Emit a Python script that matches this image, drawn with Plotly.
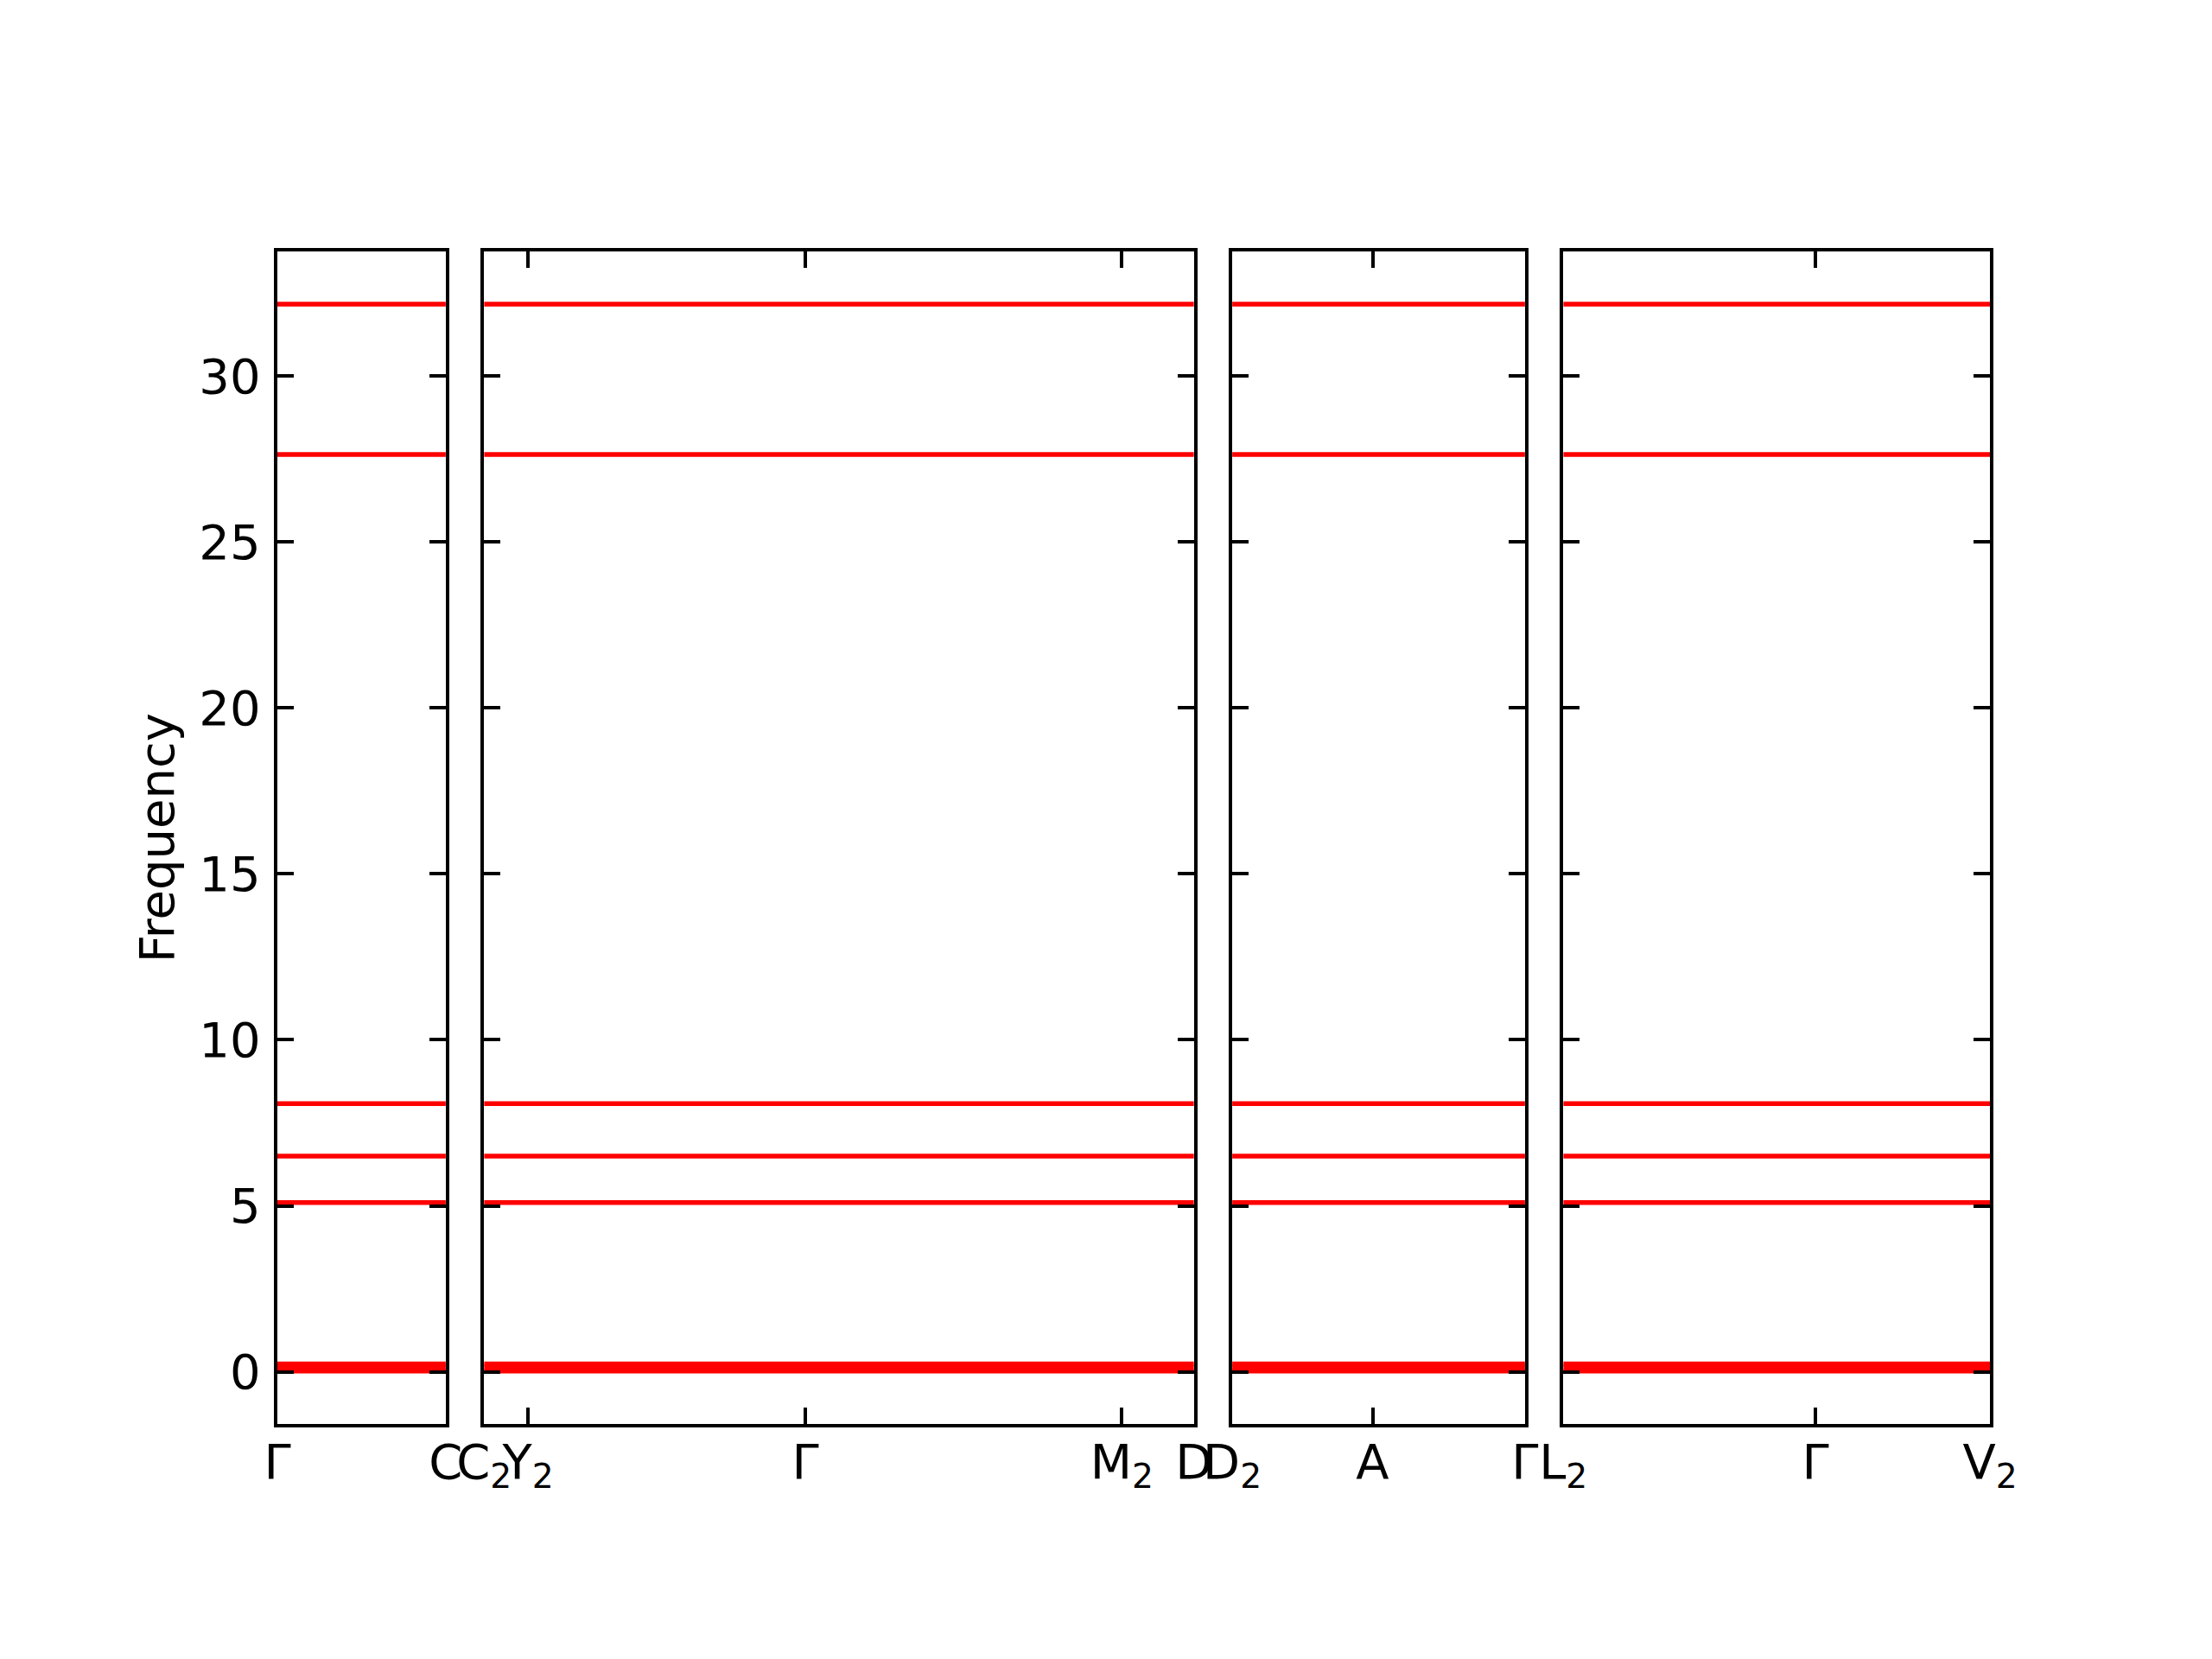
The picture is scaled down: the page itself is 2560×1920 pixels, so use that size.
import plotly.graph_objects as go

# ---- data ----
# high-symmetry labels per panel (path broken between panels)
panel_labels = [
    ["Γ", "C"],
    ["C<sub>2</sub>", "Y<sub>2</sub>", "Γ", "M<sub>2</sub>", "D"],
    ["D<sub>2</sub>", "A", "Γ"],
    ["L<sub>2</sub>", "Γ", "V<sub>2</sub>"],
]
# cumulative k-path distance of each high-symmetry point
panel_kdist = [
    [0.0, 0.195],
    [0.195, 0.246, 0.567, 0.9335, 1.017],
    [1.017, 1.1795, 1.356],
    [1.356, 1.648, 1.850],
]
# flat phonon branches (frequency), identical along the whole path
branch_freqs = [0.02, 0.13, 0.24, 5.10, 6.50, 8.08, 27.63, 32.16]

y_ticks = [0, 5, 10, 15, 20, 25, 30]
y_range = [-1.58, 33.75]

# ---- figure ----
W, H = 2560, 1920
left_px, right_px, gap_px = 321, 2303, 44.3
bottom_frac, top_frac = 1 - 1648.3 / H, 1 - 291 / H

lengths = [k[-1] - k[0] for k in panel_kdist]
avail = (right_px - left_px) - gap_px * (len(lengths) - 1)
scale = avail / sum(lengths)

FONT = "DejaVu Sans"
FS = 56
LW_AX = 4.4

fig = go.Figure()
x0 = left_px
for i, (labels, kd) in enumerate(zip(panel_labels, panel_kdist)):
    w = (kd[-1] - kd[0]) * scale
    dom = [x0 / W, (x0 + w) / W]
    x0 = x0 + w + gap_px
    xa = "x" if i == 0 else f"x{i+1}"
    ya = "y" if i == 0 else f"y{i+1}"
    for f in branch_freqs:
        fig.add_trace(go.Scatter(
            x=kd, y=[f] * len(kd), mode="lines",
            line=dict(color="#ff0000", width=5.5),
            xaxis=xa, yaxis=ya, showlegend=False, hoverinfo="skip"))
    xkey = "xaxis" if i == 0 else f"xaxis{i+1}"
    ykey = "yaxis" if i == 0 else f"yaxis{i+1}"
    fig.layout[xkey] = dict(
        domain=dom, range=[kd[0], kd[-1]], anchor=ya, automargin=False,
        tickmode="array", tickvals=kd, ticktext=labels, tickangle=0,
        ticks="inside", ticklen=19, tickwidth=LW_AX, tickcolor="black",
        showline=True, linecolor="black", linewidth=LW_AX, mirror="ticks",
        showgrid=False, zeroline=False,
        tickfont=dict(family=FONT, size=FS, color="black"),
        ticklabelstandoff=-9,
    )
    yd = dict(
        domain=[bottom_frac, top_frac], range=y_range, anchor=xa, automargin=False,
        tickmode="array", tickvals=y_ticks, ticktext=[str(v) for v in y_ticks],
        ticks="inside", ticklen=19, tickwidth=LW_AX, tickcolor="black",
        showline=True, linecolor="black", linewidth=LW_AX, mirror="ticks",
        showgrid=False, zeroline=False,
        tickfont=dict(family=FONT, size=FS, color="black"),
        showticklabels=(i == 0),
    )
    if i == 0:
        yd["ticklabelstandoff"] = 4
        yd["title"] = dict(text="Frequency", font=dict(family=FONT, size=FS, color="black"), standoff=12)
    else:
        yd["matches"] = "y"
    fig.layout[ykey] = yd

fig.update_layout(
    width=W, height=H,
    margin=dict(l=0, r=0, t=0, b=0),
    paper_bgcolor="white", plot_bgcolor="white",
    showlegend=False,
)

fig.write_html("out.html", config={"displayModeBar": False},
               post_script="document.body.style.margin='0';")
